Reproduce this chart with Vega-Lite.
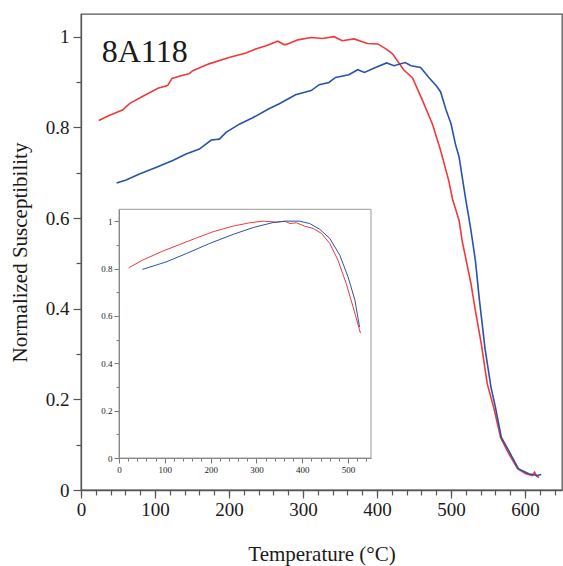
{
  "$schema": "https://vega.github.io/schema/vega-lite/v6.json",
  "autosize": "none",
  "width": 481,
  "height": 476,
  "padding": {"left": 81, "top": 14, "right": 1, "bottom": 76},
  "background": "white",
  "config": {
    "font": "Liberation Serif",
    "view": {"stroke": "#555", "strokeWidth": 1.3}
  },
  "datasets": {
    "main": [
      {"s":"heating","T":24,"k":0.815},{"s":"heating","T":38,"k":0.826},{"s":"heating","T":56,"k":0.838},{"s":"heating","T":66,"k":0.853},
      {"s":"heating","T":83,"k":0.868},{"s":"heating","T":104,"k":0.886},{"s":"heating","T":117,"k":0.892},{"s":"heating","T":123,"k":0.908},
      {"s":"heating","T":135,"k":0.914},{"s":"heating","T":146,"k":0.918},{"s":"heating","T":151,"k":0.925},{"s":"heating","T":173,"k":0.940},
      {"s":"heating","T":200,"k":0.954},{"s":"heating","T":223,"k":0.964},{"s":"heating","T":236,"k":0.973},{"s":"heating","T":250,"k":0.980},
      {"s":"heating","T":266,"k":0.990},{"s":"heating","T":275,"k":0.982},{"s":"heating","T":281,"k":0.985},{"s":"heating","T":293,"k":0.993},
      {"s":"heating","T":311,"k":0.998},{"s":"heating","T":326,"k":0.996},{"s":"heating","T":342,"k":1.000},{"s":"heating","T":353,"k":0.991},
      {"s":"heating","T":369,"k":0.995},{"s":"heating","T":387,"k":0.985},{"s":"heating","T":401,"k":0.984},{"s":"heating","T":412,"k":0.973},
      {"s":"heating","T":421,"k":0.962},{"s":"heating","T":436,"k":0.927},{"s":"heating","T":448,"k":0.909},{"s":"heating","T":461,"k":0.861},
      {"s":"heating","T":475,"k":0.807},{"s":"heating","T":486,"k":0.749},{"s":"heating","T":497,"k":0.682},{"s":"heating","T":502,"k":0.642},
      {"s":"heating","T":511,"k":0.594},{"s":"heating","T":515,"k":0.550},{"s":"heating","T":522,"k":0.495},{"s":"heating","T":527,"k":0.455},
      {"s":"heating","T":533,"k":0.395},{"s":"heating","T":541,"k":0.322},{"s":"heating","T":549,"k":0.234},{"s":"heating","T":558,"k":0.180},
      {"s":"heating","T":567,"k":0.116},{"s":"heating","T":578,"k":0.080},{"s":"heating","T":590,"k":0.047},{"s":"heating","T":601,"k":0.036},
      {"s":"heating","T":610,"k":0.032},{"s":"heating","T":613,"k":0.039},{"s":"heating","T":616,"k":0.030},{"s":"heating","T":619,"k":0.028},
      {"s":"cooling","T":48,"k":0.677},{"s":"cooling","T":61,"k":0.684},{"s":"cooling","T":79,"k":0.697},{"s":"cooling","T":102,"k":0.712},
      {"s":"cooling","T":124,"k":0.727},{"s":"cooling","T":142,"k":0.741},{"s":"cooling","T":160,"k":0.752},{"s":"cooling","T":176,"k":0.772},
      {"s":"cooling","T":187,"k":0.774},{"s":"cooling","T":196,"k":0.789},{"s":"cooling","T":214,"k":0.807},{"s":"cooling","T":232,"k":0.821},
      {"s":"cooling","T":254,"k":0.841},{"s":"cooling","T":268,"k":0.852},{"s":"cooling","T":290,"k":0.872},{"s":"cooling","T":311,"k":0.881},
      {"s":"cooling","T":322,"k":0.894},{"s":"cooling","T":335,"k":0.899},{"s":"cooling","T":344,"k":0.910},{"s":"cooling","T":362,"k":0.916},
      {"s":"cooling","T":374,"k":0.927},{"s":"cooling","T":383,"k":0.921},{"s":"cooling","T":398,"k":0.932},{"s":"cooling","T":413,"k":0.942},
      {"s":"cooling","T":423,"k":0.936},{"s":"cooling","T":438,"k":0.943},{"s":"cooling","T":446,"k":0.936},{"s":"cooling","T":459,"k":0.932},
      {"s":"cooling","T":470,"k":0.910},{"s":"cooling","T":481,"k":0.890},{"s":"cooling","T":486,"k":0.878},{"s":"cooling","T":493,"k":0.840},
      {"s":"cooling","T":500,"k":0.808},{"s":"cooling","T":506,"k":0.763},{"s":"cooling","T":511,"k":0.734},{"s":"cooling","T":515,"k":0.692},
      {"s":"cooling","T":520,"k":0.640},{"s":"cooling","T":524,"k":0.602},{"s":"cooling","T":527,"k":0.572},{"s":"cooling","T":533,"k":0.506},
      {"s":"cooling","T":538,"k":0.425},{"s":"cooling","T":546,"k":0.312},{"s":"cooling","T":554,"k":0.227},{"s":"cooling","T":560,"k":0.183},
      {"s":"cooling","T":568,"k":0.116},{"s":"cooling","T":578,"k":0.087},{"s":"cooling","T":591,"k":0.047},{"s":"cooling","T":605,"k":0.036},
      {"s":"cooling","T":616,"k":0.032},{"s":"cooling","T":622,"k":0.034}
    ],
    "inset": [
      {"s":"heating","T":21,"k":0.803},{"s":"heating","T":52,"k":0.836},{"s":"heating","T":96,"k":0.874},{"s":"heating","T":132,"k":0.901},
      {"s":"heating","T":169,"k":0.929},{"s":"heating","T":205,"k":0.955},{"s":"heating","T":249,"k":0.979},{"s":"heating","T":285,"k":0.993},
      {"s":"heating","T":314,"k":1.0},{"s":"heating","T":344,"k":0.996},{"s":"heating","T":362,"k":1.0},{"s":"heating","T":373,"k":0.990},
      {"s":"heating","T":387,"k":0.993},{"s":"heating","T":405,"k":0.979},{"s":"heating","T":424,"k":0.969},{"s":"heating","T":442,"k":0.948},
      {"s":"heating","T":460,"k":0.906},{"s":"heating","T":478,"k":0.835},{"s":"heating","T":496,"k":0.736},{"s":"heating","T":511,"k":0.637},
      {"s":"heating","T":527,"k":0.527},
      {"s":"cooling","T":51,"k":0.796},{"s":"cooling","T":103,"k":0.828},{"s":"cooling","T":147,"k":0.863},{"s":"cooling","T":198,"k":0.906},
      {"s":"cooling","T":249,"k":0.944},{"s":"cooling","T":293,"k":0.973},{"s":"cooling","T":336,"k":0.994},{"s":"cooling","T":365,"k":1.0},
      {"s":"cooling","T":394,"k":1.0},{"s":"cooling","T":416,"k":0.990},{"s":"cooling","T":438,"k":0.966},{"s":"cooling","T":460,"k":0.927},
      {"s":"cooling","T":482,"k":0.856},{"s":"cooling","T":500,"k":0.764},{"s":"cooling","T":515,"k":0.666},{"s":"cooling","T":525,"k":0.553}
    ],
    "label": [{"name": "8A118"}],
    "frame": [{"name": "inset frame"}]
  },
  "layer": [
    {
      "layer": [
        {
          "data": {"name": "main"},
          "mark": {"type": "line", "strokeWidth": 1.6},
          "encoding": {
            "x": {
              "field": "T", "type": "quantitative",
              "scale": {"domain": [0, 650], "nice": false},
              "axis": {
                "orient": "bottom",
                "values": [0,100,200,300,400,500,600],
                "tickSize": 8,
                "labelPadding": 2,
                "labelFontSize": 19,
                "labelColor": "#1a1a1a",
                "labelOverlap": false,
                "labelFlush": false,
                "labelBound": false,
                "domainColor": "#555",
                "domainWidth": 1.3,
                "tickColor": "#555",
                "tickWidth": 1.2,
                "grid": false,
                "title": "Temperature (°C)",
                "titleFontSize": 21,
                "titleFontWeight": "normal",
                "titleColor": "#1a1a1a",
                "titlePadding": 24
              }
            },
            "y": {
              "field": "k", "type": "quantitative",
              "scale": {"domain": [0, 1.05], "nice": false},
              "axis": {
                "orient": "left",
                "values": [0,0.05,0.1,0.15,0.2,0.25,0.3,0.35,0.4,0.45,0.5,0.55,0.6,0.65,0.7,0.75,0.8,0.85,0.9,0.95,1],
                "format": "~g",
                "labelExpr": "abs(datum.value*5 - round(datum.value*5)) < 0.001 ? datum.label : ''",
                "tickSize": {"condition": {"test": "abs(datum.value*5 - round(datum.value*5)) < 0.001", "value": 8}, "value": 5},
                "labelPadding": 4,
                "labelFontSize": 19,
                "labelColor": "#1a1a1a",
                "labelOverlap": false,
                "labelFlush": false,
                "labelBound": false,
                "domainColor": "#555",
                "domainWidth": 1.3,
                "tickColor": "#555",
                "tickWidth": 1.2,
                "grid": false,
                "title": "Normalized Susceptibility",
                "titleFontSize": 21,
                "titleFontWeight": "normal",
                "titleColor": "#1a1a1a",
                "titlePadding": 15
              }
            },
            "color": {
              "field": "s", "type": "nominal",
              "scale": {"domain": ["heating", "cooling"], "range": ["#ef3a3a", "#2a52a8"]},
              "legend": null
            }
          }
        },
        {
          "data": {"name": "label"},
          "mark": {"type": "text", "align": "left", "baseline": "alphabetic", "fontSize": 32, "color": "#1a1a1a", "font": "Liberation Serif"},
          "encoding": {
            "x": {
              "datum": 28, "type": "quantitative",
              "axis": {
                "orient": "bottom",
                "values": [0,20,40,60,80,100,120,140,160,180,200,220,240,260,280,300,320,340,360,380,400,420,440,460,480,500,520,540,560,580,600,620,640],
                "labels": false,
                "domain": false,
                "tickSize": 5,
                "tickColor": "#555",
                "tickWidth": 1.2,
                "grid": false,
                "title": null
              }
            },
            "y": {"datum": 0.945, "type": "quantitative"},
            "text": {"field": "name", "type": "nominal"}
          }
        }
      ],
      "resolve": {"axis": {"x": "independent"}}
    },
    {
      "layer": [
        {
          "data": {"name": "frame"},
          "mark": {"type": "rect", "filled": false, "stroke": "#9a9a9a", "strokeWidth": 1},
          "encoding": {
            "x": {
              "datum": 0, "type": "quantitative",
              "axis": {
                "orient": "bottom",
                "offset": -32,
                "values": [0,20,40,60,80,100,120,140,160,180,200,220,240,260,280,300,320,340,360,380,400,420,440,460,480,500,520,540],
                "labels": false,
                "domain": false,
                "tickSize": 3,
                "tickColor": "#777",
                "grid": false,
                "title": null
              }
            },
            "x2": {"datum": 550},
            "y": {"datum": 0, "type": "quantitative"},
            "y2": {"datum": 1.05}
          }
        },
        {
          "data": {"name": "inset"},
          "mark": {"type": "line", "strokeWidth": 1},
          "encoding": {
            "x": {
              "field": "T", "type": "quantitative",
              "scale": {"domain": [0, 550], "range": [38, 290], "nice": false},
              "axis": {
                "orient": "bottom",
                "offset": -32,
                "values": [0,100,200,300,400,500],
                "tickSize": 5,
                "labelPadding": 2,
                "labelFontSize": 9,
                "labelColor": "#1a1a1a",
                "labelOverlap": false,
                "labelFlush": false,
                "labelBound": false,
                "domainColor": "#777",
                "tickColor": "#777",
                "grid": false,
                "title": null
              }
            },
            "y": {
              "field": "k", "type": "quantitative",
              "scale": {"domain": [0, 1.05], "range": [444, 195.3], "nice": false},
              "axis": {
                "orient": "left",
                "offset": -38,
                "values": [0,0.05,0.1,0.15,0.2,0.25,0.3,0.35,0.4,0.45,0.5,0.55,0.6,0.65,0.7,0.75,0.8,0.85,0.9,0.95,1],
                "format": "~g",
                "labelExpr": "abs(datum.value*5 - round(datum.value*5)) < 0.001 ? datum.label : ''",
                "tickSize": {"condition": {"test": "abs(datum.value*5 - round(datum.value*5)) < 0.001", "value": 5}, "value": 3},
                "labelPadding": 2,
                "labelFontSize": 9,
                "labelColor": "#1a1a1a",
                "labelOverlap": false,
                "labelFlush": false,
                "labelBound": false,
                "domainColor": "#777",
                "tickColor": "#777",
                "grid": false,
                "title": null
              }
            },
            "color": {
              "field": "s", "type": "nominal",
              "scale": {"domain": ["heating", "cooling"], "range": ["#ef3a3a", "#2a52a8"]},
              "legend": null
            }
          }
        }
      ],
      "resolve": {"axis": {"x": "independent"}}
    }
  ],
  "resolve": {"scale": {"x": "independent", "y": "independent"}}
}
